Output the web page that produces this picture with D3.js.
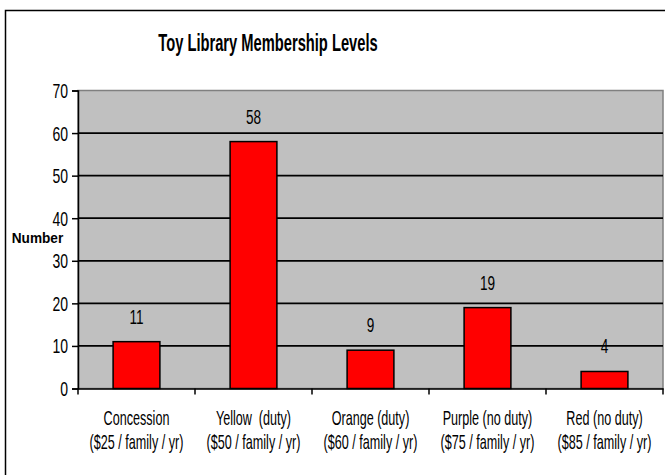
<!DOCTYPE html>
<html>
<head>
<meta charset="utf-8">
<script src="https://cdn.jsdelivr.net/npm/d3@7"></script>
<style>
  body { margin: 0; background: #fff; }
  svg { display: block; font-family: "Liberation Sans", Arial, sans-serif; }
  text { white-space: pre; }
</style>
</head>
<body>
<svg id="chart"></svg>
<script>
'use strict';

var categories = ['Concession', 'Yellow  (duty)', 'Orange (duty)', 'Purple (no duty)', 'Red (no duty)'];
var prices = ['($25 / family / yr)', '($50 / family / yr)', '($60 / family / yr)', '($75 / family / yr)', '($85 / family / yr)'];
var members = [11, 58, 9, 19, 4];
var yTicks = [0, 10, 20, 30, 40, 50, 60, 70];

var svgWidth = 665,
    svgHeight = 475,
    margin = { top: 90.5, right: 2, bottom: 86.5, left: 78 },
    width = svgWidth - margin.left - margin.right,
    height = svgHeight - margin.top - margin.bottom;

var svg = d3.select('#chart')
    .attr('width', svgWidth)
    .attr('height', svgHeight);

// squeezed text, like the exported picture
var squeezed = function(sel, x, y, sx, txt) {
    return sel.append('text')
        .attr('transform', 'translate(' + x + ',' + y + ') scale(' + sx + ',1)')
        .text(txt);
};

// outer frame (runs off the picture at right and bottom)
svg.append('rect')
    .attr('x', 5.5).attr('y', 10.5)
    .attr('width', 700).attr('height', 520)
    .attr('fill', 'none').attr('stroke', '#000').attr('stroke-width', 1.5);

squeezed(svg, 268, 51, 0.6, 'Toy Library Membership Levels')
    .attr('text-anchor', 'middle')
    .attr('font-size', 24.5)
    .attr('font-weight', 'bold');

var g = svg.append('g').attr('transform', 'translate(' + margin.left + ',' + margin.top + ')');

var xScale = d3.scaleBand().domain(categories).range([0, width]).paddingInner(0.6).paddingOuter(0.3);
var bandScale = d3.scaleBand().domain(categories).range([0, width]);
var yScale = d3.scaleLinear().domain([0, 70]).range([height, 0]);

g.append('rect')
    .attr('width', width).attr('height', height)
    .attr('fill', '#c0c0c0')
    .attr('stroke', '#808080').attr('stroke-width', 1.5);

g.append('g').selectAll('line')
    .data(yTicks.slice(1, -1))
    .enter().append('line')
    .attr('x1', 0).attr('x2', width)
    .attr('y1', function(d) { return yScale(d); })
    .attr('y2', function(d) { return yScale(d); })
    .attr('stroke', '#000').attr('stroke-width', 1.7);

g.append('g').selectAll('rect')
    .data(members)
    .enter().append('rect')
    .attr('x', function(d, i) { return xScale(categories[i]); })
    .attr('width', xScale.bandwidth())
    .attr('y', function(d) { return yScale(d); })
    .attr('height', function(d) { return height - yScale(d); })
    .attr('fill', '#ff0000')
    .attr('stroke', '#000').attr('stroke-width', 1.5);

var valueLabels = g.append('g').attr('font-size', 20).attr('text-anchor', 'middle').attr('fill', '#000');
members.forEach(function(d, i) {
    squeezed(valueLabels, bandScale(categories[i]) + bandScale.bandwidth() / 2, yScale(d) - 18, 0.68, d);
});

// y axis
var yAxis = d3.axisLeft(yScale).tickValues(yTicks).tickSize(6).tickFormat('');
var yAxisG = g.append('g').call(yAxis);
yAxisG.select('.domain').attr('stroke', '#000').attr('stroke-width', 1.5);
yAxisG.selectAll('.tick line').attr('stroke', '#000').attr('stroke-width', 1.5);
var yLabels = g.append('g').attr('font-size', 20).attr('text-anchor', 'end');
yTicks.forEach(function(t) {
    squeezed(yLabels, -10, yScale(t) + 7.5, 0.7, t);
});

// x axis, ticks between the categories
var xAxisG = g.append('g').attr('transform', 'translate(0,' + height + ')')
    .call(d3.axisBottom(bandScale).tickSize(0).tickFormat(''));
xAxisG.select('.domain').attr('stroke', '#000').attr('stroke-width', 1.5);
xAxisG.selectAll('.sep')
    .data(categories.concat(['end']))
    .enter().append('line')
    .attr('class', 'sep')
    .attr('x1', function(d, i) { return i * bandScale.step(); })
    .attr('x2', function(d, i) { return i * bandScale.step(); })
    .attr('y1', 0).attr('y2', 6)
    .attr('stroke', '#000').attr('stroke-width', 1.5);

var xLabels = g.append('g').attr('font-size', 20).attr('text-anchor', 'middle').attr('fill', '#000');
categories.forEach(function(c, i) {
    var cx = bandScale(c) + bandScale.bandwidth() / 2;
    squeezed(xLabels, cx, height + 36, 0.63, c);
    squeezed(xLabels, cx, height + 60, 0.63, prices[i]);
});

squeezed(svg, 37.5, 243, 0.88, 'Number')
    .attr('text-anchor', 'middle')
    .attr('font-size', 15.5)
    .attr('font-weight', 'bold');
</script>
</body>
</html>
